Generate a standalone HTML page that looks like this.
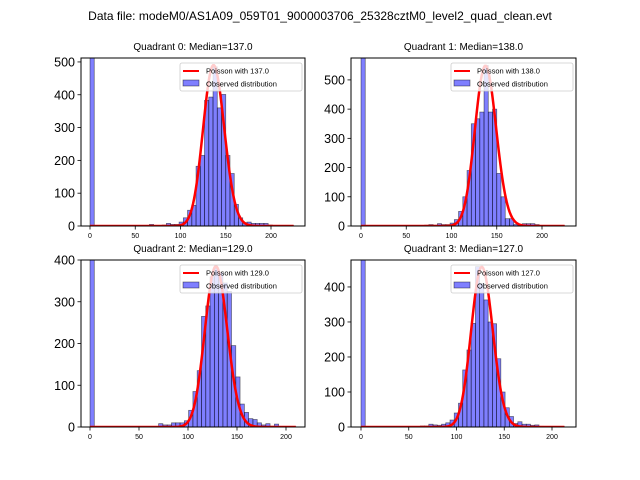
<!DOCTYPE html>
<html><head><meta charset="utf-8"><style>
body{margin:0;background:#fff;}
svg{display:block;font-family:"Liberation Sans","DejaVu Sans",sans-serif;}
</style></head><body>
<svg id="fig" width="640" height="480" viewBox="0 0 640 480">
<rect width="640" height="480" fill="#fff"/>
<text x="320" y="20" font-size="12" text-anchor="middle">Data file: modeM0/AS1A09_059T01_9000003706_25328cztM0_level2_quad_clean.evt</text>
</svg>
<script>
// ---- data ----
const panelTitles = ["Quadrant 0: Median=137.0","Quadrant 1: Median=138.0","Quadrant 2: Median=129.0","Quadrant 3: Median=127.0"];
const medians = [137, 138, 129, 127];
const dataMax = [225, 225, 210, 213];
const curvePeaks = [490, 548, 385, 457];
const yMaxes = [512, 575, 400, 477];
const yTicks0 = [0,100,200,300,400,500];
const yTicks1 = [0,100,200,300,400,500];
const yTicks2 = [0,100,200,300,400];
const yTicks3 = [0,100,200,300,400];
const xTicks = [0,50,100,150,200];
const counts0 = [1500,0,0,0,0,0,0,0,0,0,0,0,0,0,5,0,0,3,8,5,5,12,25,48,63,182,215,383,393,485,360,401,215,160,66,25,10,12,8,8,8,8,3,2,1,1,2,1];
const counts1 = [1500,0,0,0,0,0,0,0,0,0,0,0,0,0,0,3,5,3,8,5,5,10,22,50,100,190,350,367,390,550,390,400,180,100,25,25,5,5,8,8,8,5,2,2,1,1,1,1];
const counts2 = [1500,0,0,0,0,0,0,0,0,0,0,0,0,0,0,0,8,5,5,10,10,10,15,40,85,135,265,290,360,380,370,345,325,195,120,55,35,20,18,10,5,8,2,7,1,1,1,1];
const counts3 = [1500,0,0,0,0,0,0,0,0,0,0,0,0,0,3,3,8,6,5,8,12,20,40,68,163,220,296,458,410,363,300,295,195,100,55,30,10,15,8,8,5,6,2,1,1,1,1,1];
const allCounts = [counts0, counts1, counts2, counts3];
const allYTicks = [yTicks0, yTicks1, yTicks2, yTicks3];

// ---- layout ----
const boxes = [
 {x0:81,x1:305,y0:58,y1:226,px:90,sx:0.905},
 {x0:351,x1:576,y0:58,y1:226,px:361,sx:0.905},
 {x0:81,x1:305,y0:260,y1:427,px:90,sx:0.98},
 {x0:351,x1:576,y0:260,y1:427,px:361,sx:0.955}
];
const NS='http://www.w3.org/2000/svg';
const fig=document.getElementById('fig');
function mk(tag,attrs,parent){const e=document.createElementNS(NS,tag);for(const k in attrs)e.setAttribute(k,attrs[k]);(parent||fig).appendChild(e);return e;}
function logFact(k){let s=0;for(let i=2;i<=k;i++)s+=Math.log(i);return s;}

boxes.forEach((b,p)=>{
  const g=mk('g',{});
  
  
  const xs=v=>b.px+v*b.sx;
  const ys=v=>b.y1-v*(b.y1-b.y0)/yMaxes[p];
  const cp=mk('clipPath',{id:'clip'+p},g);
  mk('rect',{x:b.x0,y:b.y0,width:b.x1-b.x0,height:b.y1-b.y0},cp);
  const counts=allCounts[p];
  const w=dataMax[p]/counts.length;
  const bars=mk('g',{'clip-path':'url(#clip'+p+')'},g);
  counts.forEach((c,i)=>{
    if(c<=0)return;
    const r=mk('rect',{x:xs(i*w),y:ys(c),width:w*b.sx,height:ys(0)-ys(c),fill:'rgba(0,0,255,0.5)',stroke:'rgba(0,0,0,0.55)','stroke-width':0.7},bars);
    
    
  });
  const lam=medians[p];
  const peakLog=lam*Math.log(lam)-lam-logFact(Math.floor(lam));
  let d='';
  for(let k=0;k<=Math.round(dataMax[p]);k++){
    const lp=k*Math.log(lam)-lam-logFact(k);
    const v=curvePeaks[p]*Math.exp(lp-peakLog);
    d+=(k?'L':'M')+xs(k).toFixed(2)+','+ys(v).toFixed(2);
  }
  const pl=mk('path',{d:d,fill:'none',stroke:'#ff0000','stroke-width':2.5},bars);
  
  
  mk('rect',{x:b.x0,y:b.y0,width:b.x1-b.x0,height:b.y1-b.y0,fill:'none',stroke:'#000','stroke-width':1},g);
  const t=mk('text',{x:(b.x0+b.x1)/2,y:b.y0-8,'font-size':10,'text-anchor':'middle'},g);
  t.textContent=panelTitles[p];
  
  
  xTicks.forEach(v=>{
    const x=xs(v);
    mk('line',{x1:x,x2:x,y1:b.y1,y2:b.y1+3.5,stroke:'#000','stroke-width':0.8},g);
    const tl=mk('text',{x:x,y:b.y1+12,'font-size':7,'text-anchor':'middle'},g);
    tl.textContent=v;
    
    
  });
  allYTicks[p].forEach(v=>{
    const y=ys(v);
    mk('line',{x1:b.x0-3.5,x2:b.x0,y1:y,y2:y,stroke:'#000','stroke-width':0.8},g);
    const tl=mk('text',{x:b.x0-6,y:y+4.5,'font-size':12.5,'text-anchor':'end'},g);
    tl.textContent=v;
    
    
  });
  const lg=mk('g',{},g);
  
  
  const lx=b.x1-125, ly=b.y0+5;
  mk('rect',{x:lx,y:ly,width:122,height:28,fill:'rgba(255,255,255,0.8)',stroke:'#ccc','stroke-width':0.8,rx:2},lg);
  mk('line',{x1:lx+3,x2:lx+19,y1:ly+8,y2:ly+8,stroke:'#ff0000','stroke-width':2},lg);
  const l1=mk('text',{x:lx+26,y:ly+10.5,'font-size':7.5},lg);
  l1.textContent='Poisson with '+medians[p].toFixed(1);
  mk('rect',{x:lx+3,y:ly+17,width:16,height:6,fill:'rgba(0,0,255,0.5)',stroke:'rgba(0,0,0,0.55)','stroke-width':0.7},lg);
  const l2=mk('text',{x:lx+26,y:ly+23.5,'font-size':7.5},lg);
  l2.textContent='Observed distribution';
});
</script>
</body></html>
